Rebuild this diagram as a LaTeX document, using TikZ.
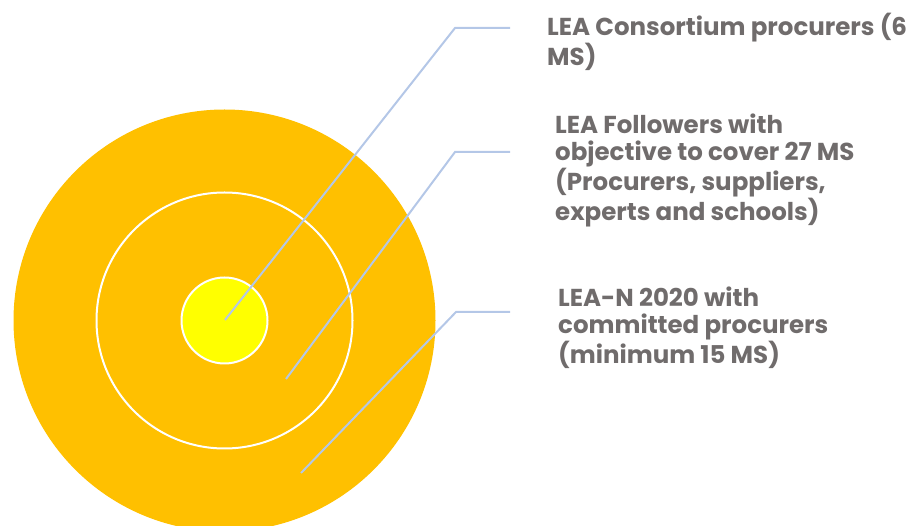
\documentclass[tikz,border=0pt]{standalone}
\usepackage{fontspec}
\setmainfont{Poppins}
\usepackage{tikz}
\usetikzlibrary{calc}
\usetikzlibrary{positioning}

\definecolor{ringorange}{HTML}{FFC000}
\definecolor{coreyellow}{HTML}{FFFF00}
\definecolor{leadergray}{HTML}{B4C7E7}
\definecolor{textgray}{HTML}{706C6C}

\tikzset{
  leader/.style={draw=leadergray, line width=2pt},
  ringlabel/.style={anchor=north west, align=left, inner sep=0pt,
    text=textgray, font=\fontsize{24.5}{27}\selectfont\bfseries}
}

\begin{document}
\begin{tikzpicture}[x=1pt, y=-1pt]
    \useasboundingbox (0,0) rectangle (911,526);

    % the three rings
    \begin{scope}
    \clip (0,0) rectangle (911,526);
    \fill[ringorange] (224.5,320.5) circle (211);
    \end{scope}
    \draw[white, line width=2pt] (224.5,320.5) circle (128);
    \draw[white, fill=coreyellow, line width=2pt] (224.5,320.5) circle (43);

    % labels
    \node[ringlabel] (consortium) at (547,13) {LEA Consortium procurers (6\\MS)};
    \node[ringlabel] (followers) at (555,114) {LEA Followers with\\objective to cover 27 MS\\(Procurers, suppliers,\\experts and schools)};
    \node[ringlabel] (network) at (558,287) {LEA-N 2020 with\\committed procurers\\(minimum 15 MS)};

    % leader lines
    \coordinate (p1) at (225,320);
    \coordinate (b1) at (455,28);
    \coordinate (e1) at (510,28);
    \coordinate (p2) at (286,379);
    \coordinate (b2) at (455,152);
    \coordinate (e2) at (510,152);
    \coordinate (p3) at (301,473);
    \coordinate (b3) at (456,312);
    \coordinate (e3) at (510,312);

    \draw[leader] (p1) -- (b1) -- (e1);
    \draw[leader] (p2) -- (b2) -- (e2);
    \draw[leader] (p3) -- (b3) -- (e3);

\end{tikzpicture}
\end{document}
